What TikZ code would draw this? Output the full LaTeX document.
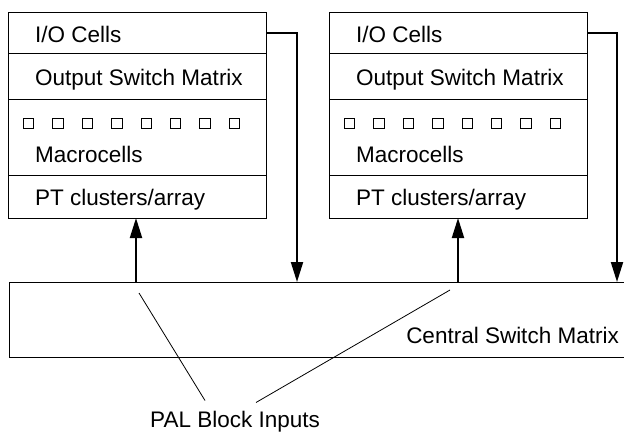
\documentclass[tikz,border=0pt]{standalone}
\usepackage{fontspec}
\setmainfont{Liberation Sans}
\usetikzlibrary{arrows.meta}
\tikzset{
        % one row of a PAL block
        blockrow/.style={draw, line width=1pt, minimum width=258pt, inner sep=0pt, outer sep=0pt, anchor=north west},
        % labels
        rowtext/.style={anchor=base west, inner sep=0pt, font=\fontsize{22.5}{26}\selectfont},
        % macrocell squares
        mcell/.style={draw, line width=1pt, minimum width=10.5pt, minimum height=10.5pt, inner sep=0pt},
        % signal arrows
        sigline/.style={line width=2pt, -{Triangle[length=20pt,width=12pt]}},
        % pointer lines to the label
        pinline/.style={line width=0.8pt}
}

\begin{document}
\begin{tikzpicture}[x=1pt, y=-1pt]
            \useasboundingbox (0,0) rectangle (624,432);

            % the two PAL blocks
            \foreach \bx/\bn in {8/L, 329/R}{
                \node[blockrow, minimum height=41pt] (\bn io) at (\bx,12) {};
                \node[blockrow, minimum height=46pt] (\bn osm) at (\bn io.south west) {};
                \node[blockrow, minimum height=76pt] (\bn mc) at (\bn osm.south west) {};
                \node[blockrow, minimum height=43pt] (\bn pt) at (\bn mc.south west) {};
                \node[rowtext] at (\bx+27,42) {I/O Cells};
                \node[rowtext] at (\bx+27,85) {Output Switch Matrix};
                \node[rowtext] at (\bx+27,162) {Macrocells};
                \node[rowtext] at (\bx+27,205) {PT clusters/array};
                \foreach \i in {0,...,7}
                    \node[mcell] (\bn sq\i) at (\bx+20.7+29.4*\i,123.3) {};
            }

            % central switch matrix
            \node[draw, line width=1pt, minimum width=620pt, minimum height=75pt,
                  inner sep=0pt, outer sep=0pt, anchor=north west] (csm) at (9,282) {};
            \node[rowtext, anchor=base east] at (619,343) {Central Switch Matrix};

            % feedback from the I/O cells and inputs to the PT arrays
            \coordinate (Lfb) at (297,282);
            \coordinate (Rfb) at (617,282);
            \coordinate (Lin) at (136,282);
            \coordinate (Rin) at (458,282);
            \draw[sigline] (Lio.east) -| (Lfb);
            \draw[sigline] (Rio.east) -| (Rfb);
            \draw[sigline] (Lin) -- (Lpt.south -| Lin);
            \draw[sigline] (Rin) -- (Rpt.south -| Rin);

            % label
            \node[rowtext, anchor=base] (pal) at (235,427) {PAL Block Inputs};
            \coordinate (pinL) at (139,293);
            \coordinate (pinR) at (450,290);
            \draw[pinline] (pinL) -- ([xshift=-30pt, yshift=10pt]pal.north);
            \draw[pinline] (pinR) -- ([xshift=21pt, yshift=8pt]pal.north);
\end{tikzpicture}
\end{document}
